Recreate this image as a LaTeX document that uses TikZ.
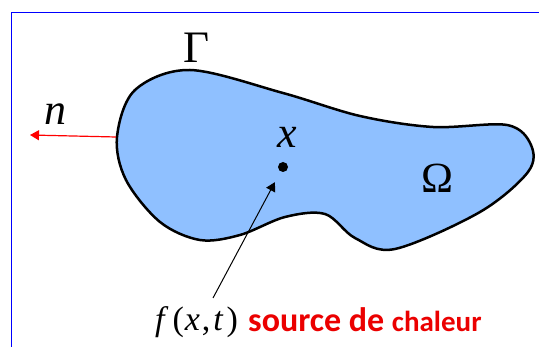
\documentclass[tikz,border=0pt]{standalone}
\usepackage{fontspec}
\setmainfont{Liberation Serif}
\newfontfamily\calfont{Carlito}
\definecolor{domainblue}{RGB}{143, 192, 255}
\definecolor{framblue}{RGB}{0, 0, 255}
\definecolor{heatred}{RGB}{235, 0, 0}
\usetikzlibrary{
    arrows.meta,
    positioning,
    calc
}

\begin{document}
\begin{tikzpicture}[x=1pt, y=-1pt,
    lbl/.style={inner sep=0pt, anchor=base},
    vecarrow/.style={line width=1.3pt, -{Triangle[length=9pt, width=10pt]}}]
    \useasboundingbox (0,0) rectangle (539,347);

    % Frame (top and left edges)
    \draw[framblue, line width=1.4pt] (539,12.5) -- (11.7,12.5) -- (11.7,347);

    % Domain Omega with boundary Gamma
    \draw[fill=domainblue, draw=black, line width=2.5pt]
        plot[smooth cycle, tension=0.55] coordinates {
            (117,137) (135,90) (190,70) (283,93) (360,116) (433,127)
            (507,125) (531,145) (528,172) (480,212) (395,249) (355,238)
            (325,214) (285,217) (240,235) (200,240) (160,222) (126,180)};

    % Labels
    \node[lbl, font=\fontsize{45}{45}\selectfont] (gamma) at (197,63) {Γ};
    \node[lbl, font=\fontsize{43}{43}\selectfont] (omega) at (437,193) {Ω};
    \node[lbl, font=\fontsize{44}{44}\selectfont\itshape] (nlab) at (56,125) {n};
    \node[lbl, font=\fontsize{44}{44}\selectfont\itshape] (xlab) at (287,148) {x};

    % Point x
    \node[circle, fill=black, inner sep=0pt, minimum size=10pt] (xdot) at (283,167) {};

    % Outward normal
    \coordinate (nstart) at (116,137);
    \coordinate (ntip) at (30,135);
    \draw[vecarrow, red, line width=1.2pt] (nstart) -- (ntip);

    % Heat source
    \node[lbl, anchor=base west, font=\fontsize{34}{34}\selectfont] (src) at (155,331)
        {\textit{f}\kern4pt(\kern1pt\textit{x}\kern2pt,\kern3pt\textit{t}\kern3pt)};
    \node[lbl, anchor=base west, text=heatred, font=\calfont\bfseries] (srctxt) at (248,332)
        {\fontsize{34}{34}\selectfont source de \fontsize{29}{29}\selectfont chaleur};
    \coordinate (srcstart) at (213,298);
    \draw[vecarrow, line width=1pt, shorten >=12pt] (srcstart) -- (xdot);
\end{tikzpicture}
\end{document}
